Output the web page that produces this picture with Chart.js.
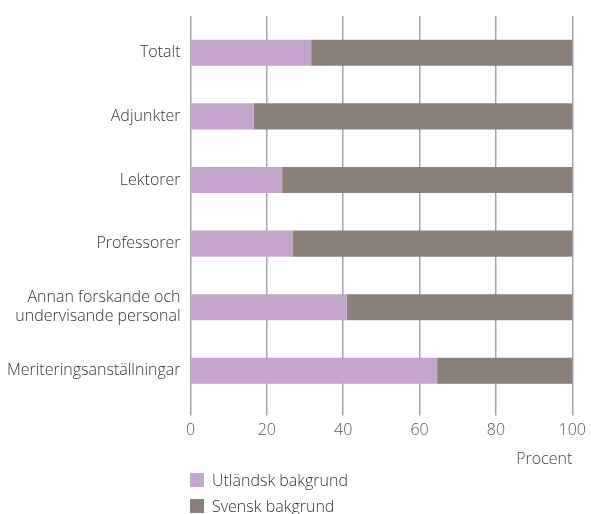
<!DOCTYPE html>
<html>
<head>
<meta charset="utf-8">
<script src="https://cdn.jsdelivr.net/npm/chart.js@4"></script>
<style>
  body { margin: 0; background: #fff; }
  #wrap { position: relative; width: 591px; height: 514px; }
  #legend { position: absolute; left: 190px; top: 467px; font: 300 16px 'Open Sans', sans-serif; color: #333; }
  #legend div { height: 26px; display: flex; align-items: center; }
  #legend span { display: inline-block; width: 14px; height: 14px; margin-right: 8px; }
</style>
</head>
<body>
<div id="wrap">
  <canvas id="myChart" width="591" height="514"></canvas>
  <div id="legend"></div>
</div>
<script>
const categories = ['Totalt', 'Adjunkter', 'Lektorer', 'Professorer',
  ['Annan forskande och', 'undervisande personal'], 'Meriteringsanställningar'];
const foreignValues = [31.6, 16.5, 24.0, 26.7, 40.9, 64.6];
const swedishValues = [68.4, 83.5, 76.0, 73.3, 59.1, 35.4];
const seriesNames = ['Utländsk bakgrund', 'Svensk bakgrund'];
const xTicks = [0, 20, 40, 60, 80, 100];
const colors = ['#c4a5ce', '#8c807b'];

const gridColor = '#a3a3a3';
const font = { family: "'Open Sans', sans-serif", size: 16, weight: 300, lineHeight: 1.2 };

const ctx = document.getElementById('myChart');
const myChart = new Chart(ctx, {
  type: 'bar',
  data: {
    labels: categories,
    datasets: [
      { label: seriesNames[0], data: foreignValues, backgroundColor: colors[0] },
      { label: seriesNames[1], data: swedishValues, backgroundColor: colors[1] }
    ]
  },
  options: {
    indexAxis: 'y',
    responsive: false,
    animation: false,
    barPercentage: 0.82,
    categoryPercentage: 0.5,
    layout: { padding: { top: 16, right: 17, bottom: 42, left: 0 } },
    plugins: { legend: { display: false }, tooltip: { enabled: false } },
    scales: {
      x: {
        stacked: true,
        min: 0, max: 100,
        afterBuildTicks: (scale) => { scale.ticks = xTicks.map(v => ({ value: v })); },
        border: { display: false },
        grid: { color: gridColor, lineWidth: 1.5, tickLength: 13, tickColor: gridColor },
        ticks: { color: '#555', font: font, padding: 5 },
        title: { display: true, text: 'Procent', align: 'end', color: '#444', font: font, padding: { top: 5, bottom: 3 } }
      },
      xTop: {
        position: 'top',
        axis: 'x',
        min: 0, max: 100,
        afterBuildTicks: (scale) => { scale.ticks = xTicks.map(v => ({ value: v })); },
        border: { display: false },
        grid: { drawOnChartArea: false, color: gridColor, lineWidth: 1.5, tickLength: 5 },
        ticks: { display: false }
      },
      y: {
        stacked: true,
        afterFit: (scale) => { scale.width = 190.5; },
        border: { display: false },
        grid: { display: false },
        ticks: { color: '#333', font: font, padding: 2 }
      }
    }
  }
});

let legendBox = document.getElementById('legend');
seriesNames.forEach((name, i) => {
  let row = document.createElement('div');
  row.innerHTML = '<span style="background:' + colors[i] + '"></span>' + name;
  legendBox.appendChild(row);
});
</script>
</body>
</html>
